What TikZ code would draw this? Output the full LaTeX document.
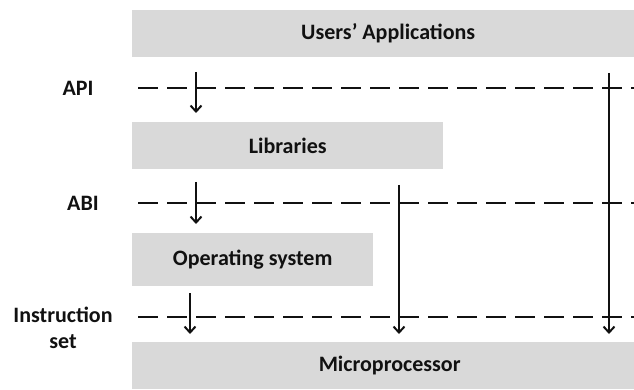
\documentclass[tikz,border=0pt]{standalone}
\usepackage{fontspec}
\setmainfont{Carlito}
\usetikzlibrary{arrows.meta}
\definecolor{layergray}{HTML}{D9D9D9}
\definecolor{ink}{HTML}{111111}
\begin{document}
\begin{tikzpicture}[x=1pt,y=-1pt,
  font=\fontsize{22}{26.4}\selectfont\bfseries,
  layer/.style={fill=layergray, draw=none, anchor=north west, inner sep=0pt,
    minimum height=47pt, text=ink},
  ifacelabel/.style={text=ink, inner sep=0pt, align=center},
  iface/.style={draw=ink, line width=2.4pt, dash pattern=on 20pt off 9pt},
  call/.style={draw=ink, line width=2pt,
    -{Straight Barb[length=6pt,width=11pt,line width=2pt]}}]
\useasboundingbox (0,0) rectangle (634,390);

% software and hardware layers
\node[layer, minimum width=512pt] (apps) at (132,10) {Users’ Applications};
\node[layer, minimum width=311pt] (libs) at (132,122) {Libraries};
\node[layer, minimum width=241pt, minimum height=53pt] (os) at (132,233) {Operating system};
\node[layer, minimum width=515pt] (cpu) at (132,342) {Microprocessor};

% interface names
\node[ifacelabel] (api) at (78,88) {API};
\node[ifacelabel] (abi) at (83,203) {ABI};
\node[ifacelabel] (isa) at (63,328) {Instruction\\set};

% interface boundaries
\coordinate (apiL) at (138,88);  \coordinate (apiR) at (650,88);
\coordinate (abiL) at (138,203); \coordinate (abiR) at (650,203);
\coordinate (isaL) at (138,317); \coordinate (isaR) at (650,317);
\path[iface] (apiL) -- (apiR);
\path[iface] (abiL) -- (abiR);
\path[iface] (isaL) -- (isaR);

% calls crossing the interfaces
\coordinate (c1s) at (196,72);  \coordinate (c1e) at (196,113);
\coordinate (c2s) at (196,182); \coordinate (c2e) at (196,224);
\coordinate (c3s) at (190,293); \coordinate (c3e) at (190,334);
\coordinate (c4s) at (399,185); \coordinate (c4e) at (399,334);
\coordinate (c5s) at (609,73);  \coordinate (c5e) at (609,334);
\path[call] (c1s) -- (c1e);
\path[call] (c2s) -- (c2e);
\path[call] (c3s) -- (c3e);
\path[call] (c4s) -- (c4e);
\path[call] (c5s) -- (c5e);
\end{tikzpicture}
\end{document}
